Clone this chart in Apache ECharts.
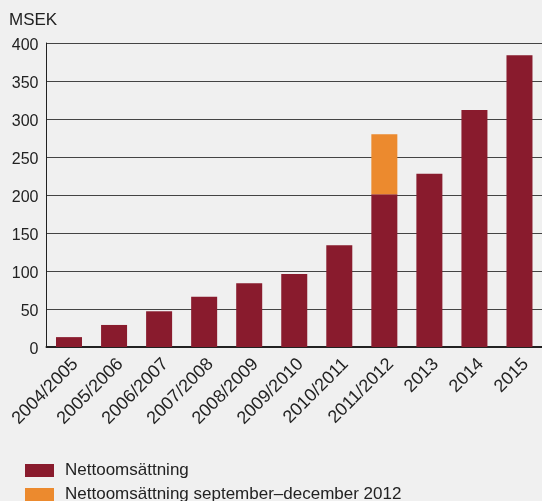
<!DOCTYPE html>
<html>
<head>
<meta charset="utf-8">
<script src="https://cdn.jsdelivr.net/npm/echarts@6/dist/echarts.min.js"></script>
<style>
  html, body { margin: 0; padding: 0; background: #f0f0f0; }
  #chart { width: 542px; height: 501px; }
</style>
</head>
<body>
<div id="chart"></div>
<script>
// Net sales per financial year, MSEK
const categories = ['2004/2005', '2005/2006', '2006/2007', '2007/2008', '2008/2009',
  '2009/2010', '2010/2011', '2011/2012', '2013', '2014', '2015'];
const nettoomsattning = [13, 29, 47, 66, 84, 96, 134, 201, 228, 312, 384];
// Extra stacked segment: the September–December 2012 period on top of 2011/2012
const septDec2012 = ['-', '-', '-', '-', '-', '-', '-', 79, '-', '-', '-'];
const yTicks = { min: 0, max: 400, interval: 50 };
const seriesNames = ['Nettoomsättning', 'Nettoomsättning september–december 2012'];

const font = 'Liberation Sans, Arial, sans-serif';
const legendBase = {
  orient: 'vertical', left: 25, padding: 0,
  itemWidth: 29, itemHeight: 13,
  icon: 'rect',
  textStyle: { fontSize: 17, color: '#222', fontFamily: font, padding: [0, 0, 0, 6] }
};

const chart = echarts.init(document.getElementById('chart'));
chart.setOption({
  backgroundColor: '#f0f0f0',
  animation: false,
  textStyle: { fontFamily: font, color: '#222' },
  title: {
    text: 'MSEK', left: 9, top: 12, padding: 0,
    textStyle: { fontFamily: font, fontSize: 17, fontWeight: 'normal', color: '#222' }
  },
  grid: { left: 46.5, right: -3, top: 43, bottom: 154, containLabel: false },
  xAxis: {
    type: 'category',
    data: categories,
    axisLine: { show: true, lineStyle: { color: '#222', width: 2 } },
    axisTick: { show: false },
    axisLabel: {
      rotate: 45, fontSize: 18, color: '#222', margin: 8, interval: 0,
      verticalAlign: 'top', fontFamily: font
    }
  },
  yAxis: {
    type: 'value',
    min: yTicks.min, max: yTicks.max, interval: yTicks.interval,
    axisLine: { show: true, lineStyle: { color: '#222', width: 1 } },
    axisTick: { show: false },
    axisLabel: {
      color: '#222', margin: 8,
      formatter: '{v|{value}}',
      rich: { v: { fontSize: 16, color: '#222', fontFamily: font, padding: [5, 0, 0, 0] } }
    },
    splitLine: { show: true, lineStyle: { color: '#444', width: 1 } }
  },
  legend: [
    Object.assign({}, legendBase, { top: 462, data: [seriesNames[0]] }),
    Object.assign({}, legendBase, { top: 486, data: [seriesNames[1]] })
  ],
  series: [
    {
      name: seriesNames[0], type: 'bar', stack: 'total',
      data: nettoomsattning, barWidth: 26,
      itemStyle: { color: '#891b2d' }
    },
    {
      name: seriesNames[1], type: 'bar', stack: 'total',
      data: septDec2012, barWidth: 26,
      itemStyle: { color: '#ec8a2e' }
    }
  ]
});
</script>
</body>
</html>
